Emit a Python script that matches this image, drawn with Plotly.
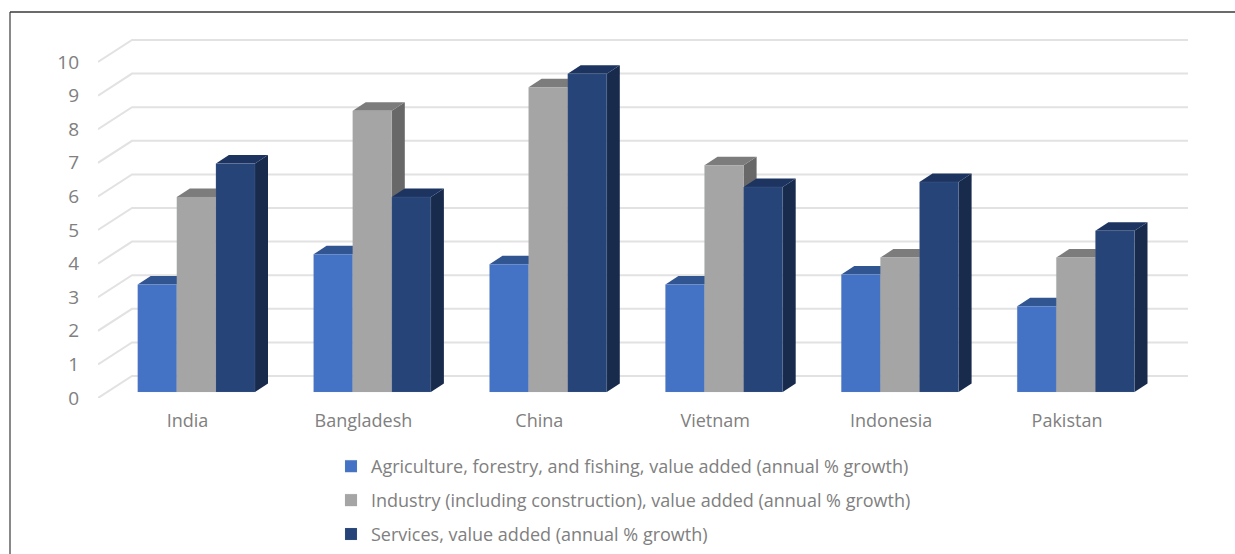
import plotly.graph_objects as go

# Annual value-added growth by sector
countries = ["India", "Bangladesh", "China", "Vietnam", "Indonesia", "Pakistan"]
agriculture = [3.2, 4.1, 3.8, 3.2, 3.5, 2.55]
industry = [5.8, 8.37, 9.07, 6.75, 4.0, 4.0]
services = [6.8, 5.8, 9.47, 6.1, 6.25, 4.8]
value_ticks = list(range(11))

series = [
    ("Agriculture, forestry, and fishing, value added (annual % growth)", agriculture,
     "#4472C4", "#315591", "#2C4C85"),
    ("Industry (including construction), value added (annual % growth)", industry,
     "#A5A5A5", "#7C7C7C", "#686868"),
    ("Services, value added (annual % growth)", services,
     "#264478", "#1D3461", "#182B4D"),
]

W, H = 1235, 554
LEFT, RIGHT, TOP, BOTTOM = 98, 1188, 30, 398
PX_PER_VALUE = 33.6
PX_PER_GROUP = 175.9
ZERO_PX = 392
FIRST_GROUP_PX = 187.5

x_range = [(LEFT - FIRST_GROUP_PX) / PX_PER_GROUP, (RIGHT - FIRST_GROUP_PX) / PX_PER_GROUP]
y_range = [(ZERO_PX - BOTTOM) / PX_PER_VALUE, (ZERO_PX - TOP) / PX_PER_VALUE]

BAR_WIDTH = 39.1 / PX_PER_GROUP
GROUP_START = (137.7 - FIRST_GROUP_PX) / PX_PER_GROUP
BAR_DX = 13 / PX_PER_GROUP
BAR_DY = 8.5 / PX_PER_VALUE
WALL_X = (132 - FIRST_GROUP_PX) / PX_PER_GROUP
WALL_DY = 16 / PX_PER_VALUE
FRONT_DY = -6 / PX_PER_VALUE

fig = go.Figure()


def polygon(points):
    return "M" + " L".join(f"{x},{y}" for x, y in points) + " Z"


shapes = []
# Floor and back-wall gridlines of the pseudo-3D box
for v in value_ticks:
    shapes.append(dict(
        type="path", layer="below", xref="x", yref="y",
        path=f"M{x_range[0]},{v + FRONT_DY} L{WALL_X},{v + WALL_DY} L{x_range[1]},{v + WALL_DY}",
        line=dict(color="#E2E2E2", width=2), fillcolor="rgba(0,0,0,0)",
    ))

# Side and top faces sit below the bars, added left to right so nearer bars cover them
for g in range(len(countries)):
    for s, (_, values, _, top_color, side_color) in enumerate(series):
        x0 = g + GROUP_START + s * BAR_WIDTH
        x1 = x0 + BAR_WIDTH
        v = values[g]
        shapes.append(dict(
            type="path", layer="below", xref="x", yref="y", fillcolor=side_color,
            line=dict(width=0),
            path=polygon([(x1, 0), (x1 + BAR_DX, BAR_DY), (x1 + BAR_DX, v + BAR_DY), (x1, v)]),
        ))
        shapes.append(dict(
            type="path", layer="below", xref="x", yref="y", fillcolor=top_color,
            line=dict(width=0),
            path=polygon([(x0, v), (x0 + BAR_DX, v + BAR_DY), (x1 + BAR_DX, v + BAR_DY), (x1, v)]),
        ))


def paper_x(px):
    return (px - LEFT) / (RIGHT - LEFT)


def paper_y(px):
    return (BOTTOM - px) / (BOTTOM - TOP)


# Chart frame: top and left edges only
shapes.append(dict(type="line", xref="paper", yref="paper", x0=paper_x(10), x1=paper_x(W),
                   y0=paper_y(12), y1=paper_y(12), line=dict(color="#3A3A3A", width=1.5)))
shapes.append(dict(type="line", xref="paper", yref="paper", x0=paper_x(10), x1=paper_x(10),
                   y0=paper_y(12), y1=paper_y(H), line=dict(color="#3A3A3A", width=1.2)))

for s, (name, values, color, _, _) in enumerate(series):
    fig.add_bar(
        name=name,
        x=[g + GROUP_START + s * BAR_WIDTH for g in range(len(countries))],
        y=values,
        width=BAR_WIDTH,
        offset=0,
        marker=dict(color=color, line=dict(color="rgba(170,175,190,0.25)", width=0.5)),
        legendgroup=name,
    )

text_font = dict(family="Open Sans, sans-serif", size=18, color="#808080")

fig.update_layout(
    width=W, height=H,
    margin=dict(l=LEFT, r=W - RIGHT, t=TOP, b=H - BOTTOM, pad=0, autoexpand=False),
    paper_bgcolor="white", plot_bgcolor="rgba(0,0,0,0)",
    barmode="overlay",
    font=text_font,
    shapes=shapes,
    xaxis=dict(
        range=x_range, tickmode="array", tickvals=list(range(len(countries))), ticktext=countries,
        showgrid=False, zeroline=False, showline=False, ticks="", ticklabelstandoff=10,
        tickfont=text_font,
    ),
    yaxis=dict(
        range=y_range, tickmode="array", tickvals=[v + FRONT_DY for v in value_ticks],
        ticktext=[str(v) for v in value_ticks],
        showgrid=False, zeroline=False, showline=False, ticks="", ticklabelstandoff=18,
        tickfont=dict(family="Open Sans, sans-serif", size=19, color="#808080"),
    ),
    legend=dict(
        x=paper_x(331), y=paper_y(448), xanchor="left", yanchor="top",
        bgcolor="rgba(0,0,0,0)", traceorder="grouped", tracegroupgap=7.5,
        font=text_font,
    ),
)

fig.write_html("out.html")
